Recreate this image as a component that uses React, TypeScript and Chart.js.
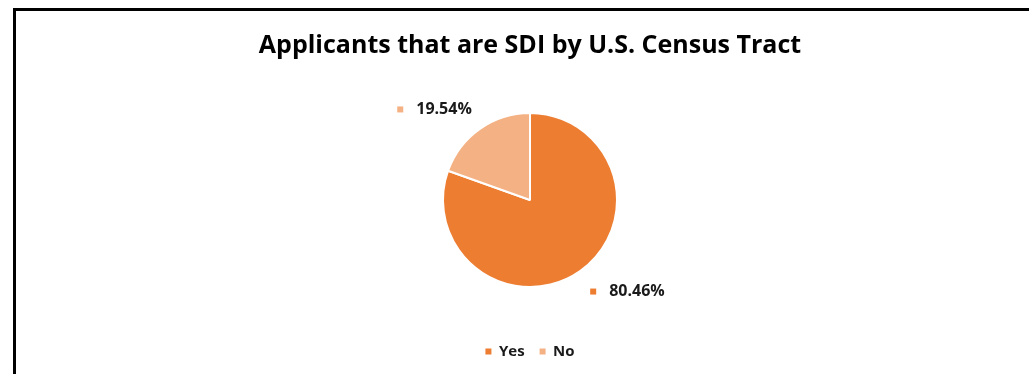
import React, { useEffect, useRef } from "react";
import { Chart, registerables } from "chart.js";

Chart.register(...registerables);

const TITLE = "Applicants that are SDI by U.S. Census Tract";
const categories = ["Yes", "No"];
const values = [80.46, 19.54];
const valueLabels = ["80.46%", "19.54%"];
const colors = ["#ED7D31", "#F4B183"];

const FONT = "'Open Sans', 'Noto Sans', sans-serif";

const framePlugin = {
  id: "frame",
  beforeDraw(chart: any) {
    const ctx = chart.ctx;
    ctx.save();
    ctx.fillStyle = "#ffffff";
    ctx.fillRect(0, 0, chart.width, chart.height);
    ctx.strokeStyle = "#000000";
    ctx.lineWidth = 3;
    ctx.beginPath();
    ctx.moveTo(14.5, chart.height + 5);
    ctx.lineTo(14.5, 9.5);
    ctx.lineTo(chart.width + 5, 9.5);
    ctx.stroke();
    ctx.restore();
  },
};

const labelPlugin = {
  id: "sliceLabels",
  afterDatasetsDraw(chart: any) {
    const ctx = chart.ctx;
    const meta = chart.getDatasetMeta(0);
    ctx.save();
    ctx.font = `bold 16px ${FONT}`;
    ctx.textBaseline = "middle";
    meta.data.forEach((arc: any, i: number) => {
      const { x, y, startAngle, endAngle, outerRadius } = arc.getProps(
        ["x", "y", "startAngle", "endAngle", "outerRadius"],
        true
      );
      const mid = (startAngle + endAngle) / 2;
      const r = outerRadius + 14;
      const px = x + Math.cos(mid) * r;
      const py = y + Math.sin(mid) * r;
      const text = valueLabels[i];
      const tw = ctx.measureText(text).width;
      const yc = py + (Math.sin(mid) >= 0 ? 9 : -8);
      let markerX: number;
      if (Math.cos(mid) >= 0) {
        markerX = px + 2;
      } else {
        markerX = px - tw - 13 - 6;
      }
      ctx.fillStyle = colors[i];
      ctx.fillRect(markerX, yc - 3, 6, 6);
      ctx.fillStyle = "#1a1a1a";
      ctx.textAlign = "left";
      ctx.fillText(text, markerX + 19, yc);
    });
    ctx.restore();
  },
};

export default function App() {
  const ref = useRef<HTMLCanvasElement>(null);
  useEffect(() => {
    if (!ref.current) return;
    const chart = new Chart(ref.current, {
      type: "pie",
      data: {
        labels: categories,
        datasets: [
          {
            data: values,
            backgroundColor: colors,
            borderColor: "#ffffff",
            borderWidth: 2,
            radius: 87,
          },
        ],
      },
      options: {
        responsive: false,
        animation: false,
        layout: { padding: { left: 31, right: 0, top: 0, bottom: 5 } },
        plugins: {
          tooltip: { enabled: false },
          title: {
            display: true,
            text: TITLE,
            color: "#000000",
            font: { family: FONT, size: 25, weight: "bold" },
            padding: { top: 31, bottom: 10 },
          },
          legend: {
            display: true,
            position: "bottom",
            labels: {
              boxWidth: 6,
              boxHeight: 6,
              padding: 15,
              color: "#1a1a1a",
              font: { family: FONT, size: 15, weight: "bold" },
              generateLabels: (c: any) => {
                const base = (Chart as any).overrides.pie.plugins.legend.labels.generateLabels(c);
                return base.map((l: any) => ({ ...l, lineWidth: 0, strokeStyle: "transparent" }));
              },
            },
            onClick: () => {},
          },
        },
      } as any,
      plugins: [framePlugin, labelPlugin],
    });
    return () => chart.destroy();
  }, []);
  return (
    <div style={{ position: "fixed", left: 0, top: 0, width: 1029, height: 374, background: "#fff" }}>
      <canvas ref={ref} width={1029} height={374} style={{ display: "block" }} />
    </div>
  );
}
